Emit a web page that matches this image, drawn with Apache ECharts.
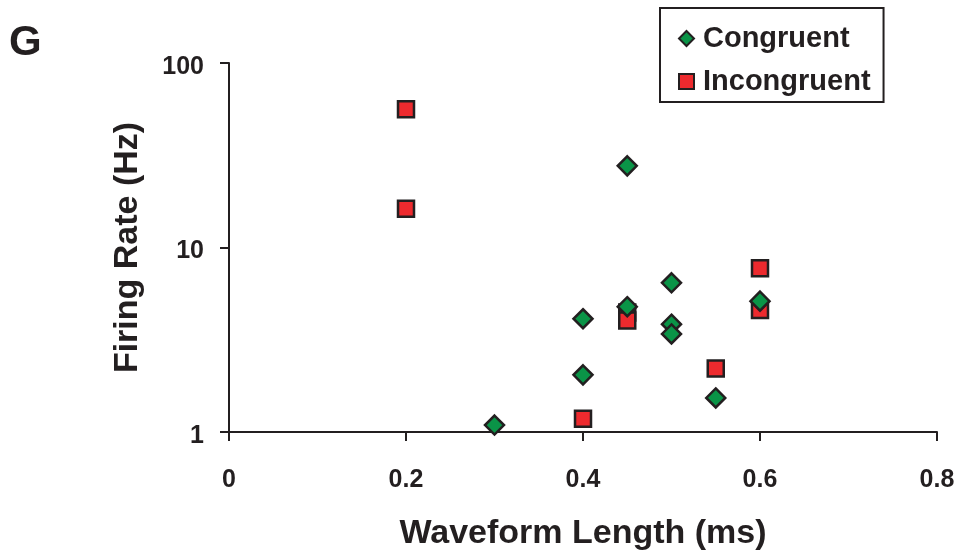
<!DOCTYPE html>
<html>
<head>
<meta charset="utf-8">
<script src="https://cdn.jsdelivr.net/npm/echarts@6/dist/echarts.min.js"></script>
<style>html,body{margin:0;padding:0;background:#fff;}#c{width:958px;height:556px;}</style>
</head>
<body>
<div id="c"></div>
<script>
// Data (x = waveform length in ms, y = firing rate in Hz)
const congruentX = [0.3, 0.4, 0.4, 0.45, 0.45, 0.5, 0.5, 0.5, 0.55, 0.6];
const congruentY = [1.09, 2.04, 4.11, 27.7, 4.78, 6.44, 3.84, 3.40, 1.53, 5.12];
const incongruentX = [0.2, 0.2, 0.4, 0.45, 0.45, 0.55, 0.6, 0.6];
const incongruentY = [56.1, 16.2, 1.18, 4.44, 4.02, 2.21, 7.72, 4.59];
const seriesNames = ['Congruent', 'Incongruent'];
const xTicks = [0, 0.2, 0.4, 0.6, 0.8];

const zip = (xs, ys) => xs.map((x, i) => [x, ys[i]]);
const ink = '#231f20';
const font = 'Liberation Sans, Arial, Helvetica, sans-serif';

const chart = echarts.init(document.getElementById('c'));
chart.setOption({
  animation: false,
  backgroundColor: '#fff',
  grid: { left: 229, right: 21, top: 63, bottom: 119 },
  graphic: [{
    type: 'text', left: 9, top: 22,
    style: { text: 'G', font: 'bold 42px ' + font, fill: ink }
  }],
  legend: {
    orient: 'vertical', left: 660, top: 8,
    data: seriesNames,
    borderColor: ink, borderWidth: 2,
    padding: [16, 13, 6, 18],
    itemGap: 14, itemWidth: 15, itemHeight: 15,
    textStyle: { fontFamily: font, fontWeight: 'bold', fontSize: 29, color: ink, padding: [0, 0, 0, 4] }
  },
  xAxis: {
    type: 'value', min: 0, max: 0.8, interval: 0.2,
    name: 'Waveform Length (ms)', nameLocation: 'middle', nameGap: 85,
    nameTextStyle: { fontFamily: font, fontWeight: 'bold', fontSize: 34, color: ink },
    axisLine: { lineStyle: { color: ink, width: 2 } },
    axisTick: { show: true, length: 9, lineStyle: { color: ink, width: 2 } },
    axisLabel: { margin: 36, fontFamily: font, fontWeight: 'bold', fontSize: 25, color: ink,
      formatter: v => { const t = xTicks.find(k => Math.abs(k - v) < 1e-9); return t === undefined ? '' : String(t); } },
    splitLine: { show: false }
  },
  yAxis: {
    type: 'log', logBase: 10, min: 1, max: 100,
    name: 'Firing Rate (Hz)', nameLocation: 'middle', nameGap: 84, nameRotate: 90,
    nameTextStyle: { fontFamily: font, fontWeight: 'bold', fontSize: 34, color: ink },
    axisLine: { show: true, lineStyle: { color: ink, width: 2 } },
    axisTick: { show: true, length: 9, lineStyle: { color: ink, width: 2 } },
    minorTick: { show: false },
    axisLabel: { margin: 25, verticalAlign: 'top', lineHeight: 8, fontFamily: font, fontWeight: 'bold', fontSize: 25, color: ink },
    splitLine: { show: false }
  },
  series: [
    {
      name: seriesNames[0], type: 'scatter', symbol: 'diamond', symbolSize: [19, 19], z: 3,
      itemStyle: { color: '#0a9447', borderColor: ink, borderWidth: 2.5, opacity: 1 },
      data: zip(congruentX, congruentY)
    },
    {
      name: seriesNames[1], type: 'scatter', symbol: 'rect', symbolSize: [16, 16], z: 2,
      itemStyle: { color: '#ed2a2e', borderColor: ink, borderWidth: 2.5, opacity: 1 },
      data: zip(incongruentX, incongruentY)
    }
  ]
});
</script>
</body>
</html>
